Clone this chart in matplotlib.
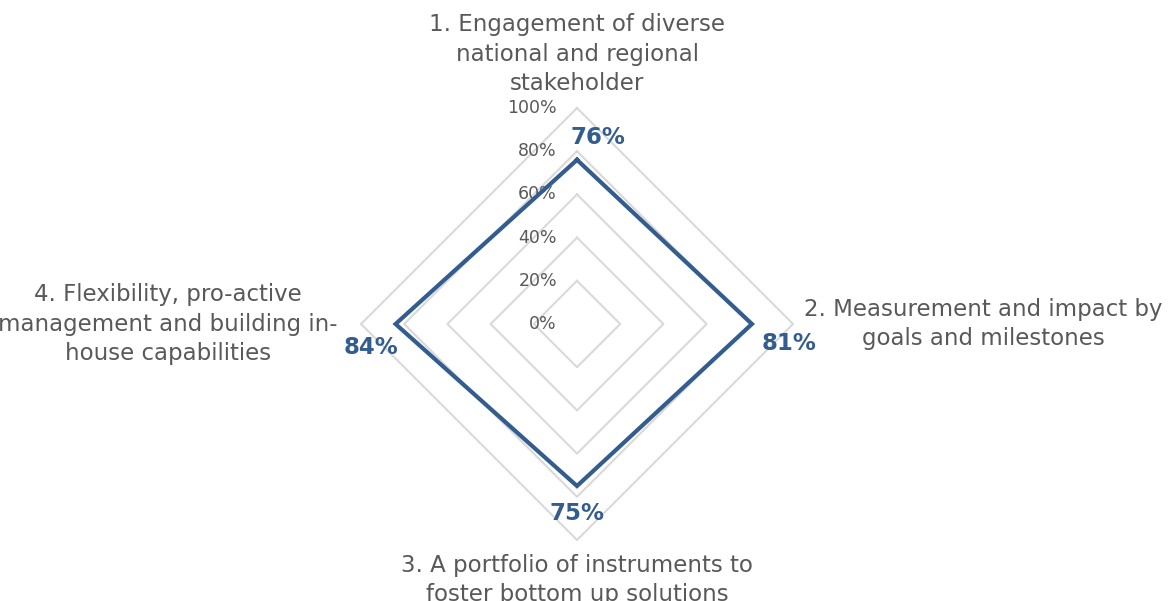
import matplotlib.pyplot as plt
import numpy as np

# --- data ---
categories = [
    "1. Engagement of diverse\nnational and regional\nstakeholder",
    "2. Measurement and impact by\ngoals and milestones",
    "3. A portfolio of instruments to\nfoster bottom up solutions",
    "4. Flexibility, pro-active\nmanagement and building in-\nhouse capabilities",
]
values = [0.76, 0.81, 0.75, 0.84]
ring_levels = [0.0, 0.2, 0.4, 0.6, 0.8, 1.0]
ring_labels = ["0%", "20%", "40%", "60%", "80%", "100%"]

LINE = "#335c8f"
GRID = "#d9d9d9"
TEXT = "#595959"

# spokes: top, right, bottom, left (clockwise from north)
angles = np.pi / 2 - np.arange(len(categories)) * 2 * np.pi / len(categories)


def to_xy(r):
    r = np.asarray(r, dtype=float)
    return r * np.cos(angles), r * np.sin(angles)


fig = plt.figure(figsize=(11.72, 6.01), dpi=100)
ax = fig.add_axes([0, 0, 1, 1])
scale = 216.0  # pixels per 100%
ax.set_xlim(-577 / scale, (1172 - 577) / scale)
ax.set_ylim(-277 / scale, 324 / scale)
ax.set_aspect("equal")
ax.axis("off")

# grid diamonds
for lvl in ring_levels[1:]:
    x, y = to_xy([lvl] * len(categories))
    ax.plot(np.append(x, x[0]), np.append(y, y[0]), color=GRID, lw=1.5, zorder=1)

# ring labels
for lvl, lab in zip(ring_levels, ring_labels):
    ax.text(-0.093, lvl, lab, ha="right", va="center", fontsize=12.5,
            color=TEXT, zorder=2)

# data polygon
x, y = to_xy(values)
ax.plot(np.append(x, x[0]), np.append(y, y[0]), color=LINE, lw=3,
        solid_joinstyle="miter", zorder=3)

# data labels
label_offsets = [(21, 22), (37, -20), (0, -27), (-25, -23)]
for xi, yi, v, off in zip(x, y, values, label_offsets):
    ax.annotate(f"{v:.0%}", (xi, yi), xytext=off, textcoords="offset pixels",
                ha="center", va="center", fontsize=16.5, fontweight="bold",
                color=LINE, zorder=4)

# category labels (pixel positions relative to centre)
cat_pos = [(0, 270), (406, 0), (0, -256), (-409, 0)]
for cat, (dx, dy) in zip(categories, cat_pos):
    ax.text(dx / scale, dy / scale, cat, ha="center", va="center",
            fontsize=16.5, color=TEXT, linespacing=1.38)

fig.savefig("out.png", dpi=100)
